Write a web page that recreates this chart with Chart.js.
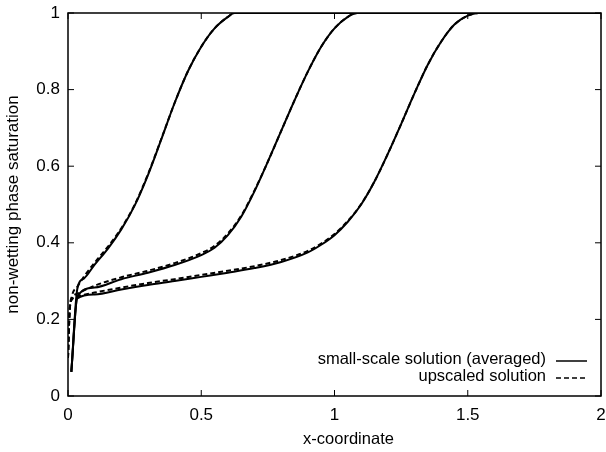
<!DOCTYPE html>
<html>
<head>
<meta charset="utf-8">
<script src="https://cdn.jsdelivr.net/npm/chart.js@4/dist/chart.umd.min.js"></script>
<style>
  html, body { margin: 0; padding: 0; background: #fff; }
</style>
</head>
<body>
<canvas id="c" width="606" height="452"></canvas>
<script>
// ── Data ─────────────────────────────────────────────────────────────────────

const X_TICKS = [0, 0.5, 1, 1.5, 2];
const Y_TICKS = [0, 0.2, 0.4, 0.6, 0.8, 1];

// small-scale solution (averaged), three snapshots
const smallX1 = [0.0125, 0.035, 0.06, 0.1, 0.15, 0.2, 0.25, 0.3, 0.35, 0.4, 0.45, 0.5, 0.55, 0.6, 0.625, 2];
const smallY1 = [0.063, 0.28, 0.307, 0.343, 0.385, 0.435, 0.497, 0.577, 0.67, 0.765, 0.848, 0.912, 0.96, 0.99, 1, 1];

const smallX2 = [0.0125, 0.035, 0.1, 0.2, 0.3, 0.4, 0.5, 0.55, 0.6, 0.65, 0.7, 0.75, 0.8, 0.85, 0.9, 0.95, 1.0, 1.05, 1.085, 2];
const smallY2 = [0.063, 0.26, 0.283, 0.305, 0.322, 0.342, 0.368, 0.387, 0.42, 0.468, 0.535, 0.612, 0.692, 0.772, 0.847, 0.912, 0.96, 0.99, 1, 1];

const smallX3 = [0.0125, 0.035, 0.1, 0.2, 0.3, 0.4, 0.5, 0.6, 0.7, 0.8, 0.9, 0.95, 1.0, 1.05, 1.1, 1.15, 1.2, 1.25, 1.3, 1.35, 1.4, 1.45, 1.5, 1.54, 2];
const smallY3 = [0.063, 0.255, 0.265, 0.278, 0.29, 0.3, 0.311, 0.322, 0.334, 0.35, 0.375, 0.395, 0.42, 0.455, 0.5, 0.56, 0.632, 0.71, 0.79, 0.865, 0.925, 0.97, 0.993, 1, 1];

// upscaled solution, same snapshots
const upX1 = [0, 0.006, 0.015, 0.035, 0.06, 0.1, 0.15, 0.2, 0.25, 0.3, 0.35, 0.4, 0.45, 0.5, 0.55, 0.6, 0.625, 2];
const upY1 = [0.1, 0.22, 0.262, 0.285, 0.312, 0.348, 0.39, 0.438, 0.499, 0.579, 0.671, 0.765, 0.848, 0.912, 0.96, 0.99, 1, 1];

const upX2 = [0, 0.006, 0.015, 0.035, 0.1, 0.2, 0.3, 0.4, 0.5, 0.55, 0.6, 0.65, 0.7, 0.75, 0.8, 0.85, 0.9, 0.95, 1.0, 1.05, 1.085, 2];
const upY2 = [0.1, 0.22, 0.255, 0.267, 0.288, 0.31, 0.327, 0.347, 0.373, 0.392, 0.424, 0.471, 0.537, 0.612, 0.692, 0.772, 0.847, 0.912, 0.96, 0.99, 1, 1];

const upX3 = [0, 0.006, 0.015, 0.035, 0.1, 0.2, 0.3, 0.4, 0.5, 0.6, 0.7, 0.8, 0.9, 0.95, 1.0, 1.05, 1.1, 1.15, 1.2, 1.25, 1.3, 1.35, 1.4, 1.45, 1.5, 1.54, 2];
const upY3 = [0.1, 0.22, 0.252, 0.26, 0.27, 0.283, 0.295, 0.305, 0.316, 0.327, 0.339, 0.355, 0.379, 0.398, 0.423, 0.457, 0.501, 0.56, 0.632, 0.71, 0.79, 0.865, 0.925, 0.97, 0.993, 1, 1];

const LABEL_SMALL = 'small-scale solution (averaged)';
const LABEL_UP    = 'upscaled solution';
const X_TITLE     = 'x-coordinate';
const Y_TITLE     = 'non-wetting phase saturation';

// ── Helpers ──────────────────────────────────────────────────────────────────

const FONT = "'Liberation Sans', Arial, Helvetica, sans-serif";
const INK  = '#000';
const DASH = [5, 3];

const pts = (xs, ys) => xs.map((x, i) => ({ x, y: ys[i] }));
const tickFmt = v => String(Math.round(v * 10) / 10);

function series(xs, ys, dashed) {
  return {
    data: pts(xs, ys),
    borderColor: INK,
    borderWidth: 2,
    borderDash: dashed ? DASH : [],
    pointRadius: 0,
    fill: false,
    cubicInterpolationMode: 'monotone',
  };
}

// gnuplot-like frame, inward ticks on all sides, axis titles and in-plot key
const frame = {
  id: 'frame',
  afterDraw(chart) {
    const { ctx, chartArea: a, scales: { x, y } } = chart;
    const TL = 6;
    ctx.save();
    ctx.strokeStyle = INK;
    ctx.lineWidth = 1.5;
    ctx.strokeRect(a.left, a.top, a.right - a.left, a.bottom - a.top);

    ctx.lineWidth = 1;
    ctx.beginPath();
    X_TICKS.forEach(v => {
      const px = x.getPixelForValue(v);
      ctx.moveTo(px, a.bottom); ctx.lineTo(px, a.bottom - TL);
      ctx.moveTo(px, a.top);    ctx.lineTo(px, a.top + TL);
    });
    Y_TICKS.forEach(v => {
      const py = y.getPixelForValue(v);
      ctx.moveTo(a.left, py);  ctx.lineTo(a.left + TL, py);
      ctx.moveTo(a.right, py); ctx.lineTo(a.right - TL, py);
    });
    ctx.stroke();

    ctx.fillStyle = INK;
    ctx.textBaseline = 'middle';

    // axis titles
    ctx.textAlign = 'center';
    ctx.font = '16.5px ' + FONT;
    ctx.fillText(X_TITLE, (a.left + a.right) / 2 + 14, 439);
    ctx.save();
    ctx.translate(13, (a.top + a.bottom) / 2);
    ctx.rotate(-Math.PI / 2);
    ctx.font = '17px ' + FONT;
    ctx.fillText(Y_TITLE, 0, 0);
    ctx.restore();

    // key
    ctx.font = '16.5px ' + FONT;
    const textRight = a.right - 55, x0 = a.right - 45, x1 = a.right - 14;
    const rows = [[LABEL_SMALL, [], a.bottom - 37], [LABEL_UP, DASH, a.bottom - 20]];
    ctx.textAlign = 'right';
    rows.forEach(([label, dash, ry]) => {
      ctx.fillText(label, textRight, ry);
      ctx.setLineDash(dash);
      ctx.lineWidth = 1.5;
      ctx.beginPath();
      ctx.moveTo(x0, ry + 2); ctx.lineTo(x1, ry + 2);
      ctx.stroke();
    });
    ctx.restore();
  }
};

// ── Chart ────────────────────────────────────────────────────────────────────

new Chart(document.getElementById('c').getContext('2d'), {
  type: 'line',
  data: {
    datasets: [
      series(smallX1, smallY1, false),
      series(smallX2, smallY2, false),
      series(smallX3, smallY3, false),
      series(upX1, upY1, true),
      series(upX2, upY2, true),
      series(upX3, upY3, true),
    ],
  },
  options: {
    responsive: false,
    animation: false,
    layout: { padding: { top: 13, right: 5, left: 0, bottom: 0 } },
    plugins: { legend: { display: false }, tooltip: { enabled: false } },
    scales: {
      x: {
        type: 'linear', min: 0, max: 2,
        grid: { display: false, drawTicks: false },
        border: { display: false },
        ticks: { stepSize: 0.5, color: INK, padding: 9, callback: tickFmt, font: { family: FONT, size: 17 } },
        afterFit: s => { s.height = 56; s.paddingLeft = 0; s.paddingRight = 0; },
      },
      y: {
        type: 'linear', min: 0, max: 1,
        grid: { display: false, drawTicks: false },
        border: { display: false },
        ticks: { stepSize: 0.2, color: INK, padding: 8, callback: tickFmt, font: { family: FONT, size: 17 } },
        afterFit: s => { s.width = 68; s.paddingTop = 0; s.paddingBottom = 0; },
      },
    },
  },
  plugins: [frame],
});
</script>
</body>
</html>
